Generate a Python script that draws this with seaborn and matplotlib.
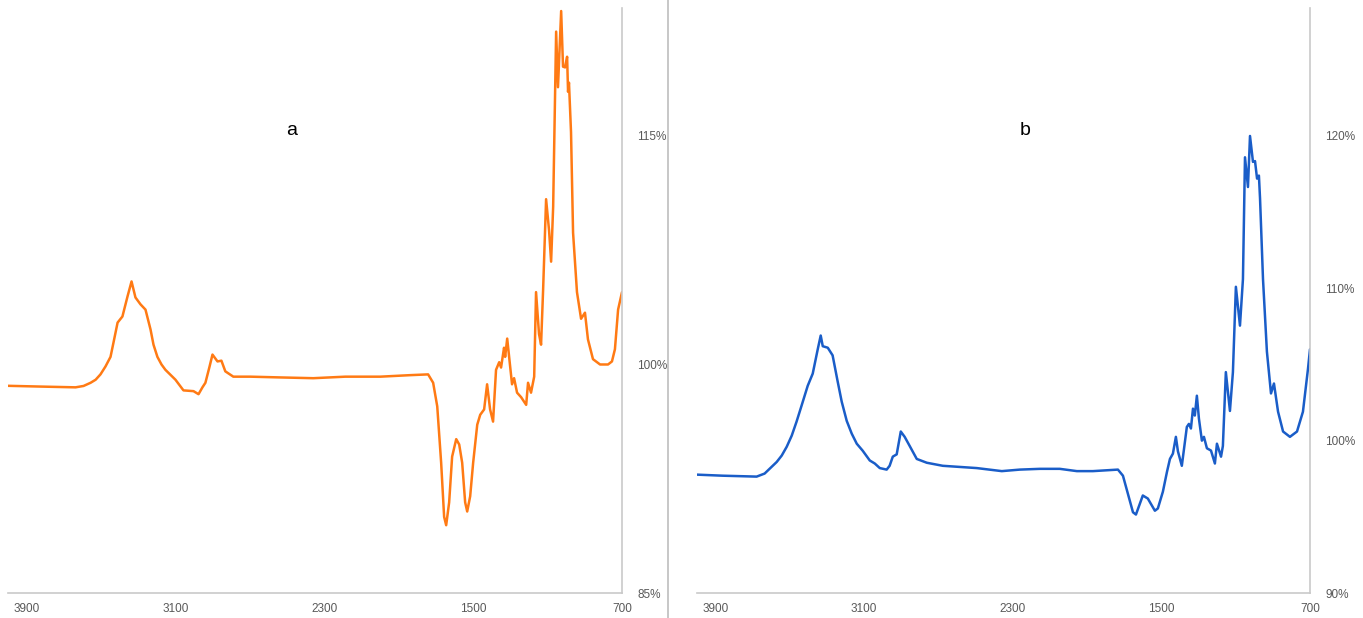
import matplotlib
matplotlib.use("Agg")
import matplotlib.pyplot as plt
import matplotlib.lines as mlines
import seaborn as sns
import pandas as pd

# ---------------- data ----------------
wn_a = [4000, 3825, 3637, 3594, 3556, 3529, 3503, 3476, 3449, 3433, 3411, 3385,
        3358, 3336, 3315, 3288, 3261, 3234, 3218, 3197, 3175, 3154, 3100, 3057,
        3003, 2976, 2955, 2939, 2917, 2901, 2874, 2853, 2832, 2789, 2697, 2536,
        2359, 2187, 1999, 1838, 1742, 1715, 1693, 1672, 1656, 1645, 1629, 1613,
        1591, 1575, 1559, 1543, 1532, 1516, 1500, 1478, 1462, 1441, 1425, 1409,
        1393, 1377, 1360, 1350, 1334, 1328, 1317, 1301, 1291, 1280, 1264, 1242,
        1215, 1205, 1189, 1172, 1162, 1146, 1135, 1124, 1108, 1092, 1081, 1070,
        1054, 1044, 1027, 1017, 1006, 995, 990, 985, 974, 963, 942, 920, 899,
        883, 856, 818, 775, 754, 738, 721, 700]
val_a = [98.6, 98.55, 98.5, 98.59, 98.8, 99.0, 99.35, 99.87, 100.5, 101.44,
         102.75, 103.15, 104.45, 105.45, 104.4, 103.95, 103.6, 102.3, 101.3,
         100.5, 100.0, 99.65, 99.0, 98.3, 98.25, 98.05, 98.5, 98.8, 99.85,
         100.65, 100.2, 100.25, 99.55, 99.2, 99.2, 99.15, 99.1, 99.2, 99.2,
         99.3, 99.35, 98.8, 97.25, 93.55, 90.0, 89.45, 90.95, 93.95, 95.1,
         94.75, 93.55, 90.95, 90.35, 91.35, 93.55, 96.05, 96.7, 97.05, 98.7,
         97.05, 96.25, 99.65, 100.15, 99.8, 101.1, 100.5, 101.7, 99.85, 98.7,
         99.1, 98.15, 97.85, 97.35, 98.8, 98.15, 99.2, 104.75, 102.0, 101.3,
         104.9, 110.85, 108.8, 106.75, 110.35, 121.85, 118.2, 123.2, 119.55,
         119.5, 120.2, 117.9, 118.5, 115.25, 108.65, 104.75, 103.0, 103.4,
         101.65, 100.35, 100.0, 100.0, 100.2, 101.0, 103.6, 104.75]

wn_b = [4002, 3862, 3679, 3636, 3571, 3544, 3517, 3490, 3464, 3437, 3404, 3377,
        3350, 3334, 3323, 3296, 3270, 3243, 3221, 3194, 3167, 3140, 3108, 3070,
        3043, 3016, 2979, 2963, 2946, 2925, 2903, 2882, 2855, 2817, 2763, 2677,
        2494, 2359, 2262, 2154, 2047, 1955, 1869, 1734, 1707, 1680, 1653, 1637,
        1600, 1573, 1535, 1519, 1492, 1470, 1454, 1438, 1422, 1411, 1390, 1363,
        1352, 1341, 1330, 1320, 1309, 1298, 1282, 1271, 1255, 1233, 1212, 1201,
        1179, 1169, 1153, 1131, 1115, 1099, 1077, 1061, 1050, 1034, 1023, 1007,
        996, 985, 975, 969, 953, 932, 910, 894, 872, 845, 808, 770, 738, 711, 700]
val_b = [97.77, 97.7, 97.64, 97.84, 98.6, 99.02, 99.6, 100.33, 101.25, 102.3,
         103.6, 104.4, 106.0, 106.9, 106.2, 106.1, 105.6, 103.9, 102.56, 101.3,
         100.46, 99.8, 99.34, 98.7, 98.5, 98.2, 98.1, 98.35, 98.95, 99.1,
         100.6, 100.25, 99.65, 98.8, 98.55, 98.35, 98.2, 98.0, 98.1, 98.15,
         98.15, 98.0, 98.0, 98.1, 97.7, 96.5, 95.3, 95.15, 96.4, 96.2, 95.4,
         95.55, 96.65, 97.95, 98.8, 99.15, 100.25, 99.3, 98.35, 100.9, 101.1,
         100.8, 102.1, 101.65, 102.95, 101.45, 100.0, 100.25, 99.5, 99.35,
         98.5, 99.8, 98.95, 99.65, 104.5, 101.95, 104.5, 110.1, 107.55, 110.6,
         118.6, 116.65, 120.0, 118.3, 118.35, 117.2, 117.4, 115.9, 110.6,
         105.85, 103.1, 103.75, 101.9, 100.6, 100.25, 100.6, 101.9, 104.7, 106.0]

x_ticks = [3900, 3100, 2300, 1500, 700]
y_ticks_a = [85, 100, 115]
y_ticks_b = [90, 100, 110, 120]
label_a = "a"
label_b = "b"

df_a = pd.DataFrame({"wn": wn_a, "val": val_a})
df_b = pd.DataFrame({"wn": wn_b, "val": val_b})

# ---------------- figure ----------------
sns.set_style("white")
plt.rcParams["font.family"] = ["Liberation Sans", "DejaVu Sans"]

W, H = 1363, 618
fig = plt.figure(figsize=(W / 100, H / 100), dpi=100)

def px_axes(x0, x1, y0, y1):
    return fig.add_axes([x0 / W, 1 - y1 / H, (x1 - x0) / W, (y1 - y0) / H])

ax_a = px_axes(8, 622, 8, 593)
ax_b = px_axes(697, 1310, 8, 593)

spine_col = "#c9c9c9"
tick_col = "#595959"

def style(ax, yticks, ylim):
    ax.set_xlim(4000, 700)
    ax.set_ylim(*ylim)
    ax.set_xticks(x_ticks)
    ax.set_xticklabels([str(t) for t in x_ticks])
    ax.set_yticks(yticks)
    ax.set_yticklabels([f"{t}%" for t in yticks])
    ax.yaxis.tick_right()
    ax.yaxis.set_label_position("right")
    for s in ["top", "left"]:
        ax.spines[s].set_visible(False)
    for s in ["bottom", "right"]:
        ax.spines[s].set_color(spine_col)
        ax.spines[s].set_linewidth(1.2)
    ax.tick_params(axis="x", length=0, pad=7, labelsize=8.5, colors=tick_col)
    ax.tick_params(axis="y", length=0, pad=11, labelsize=8.5, colors=tick_col)
    ax.set_xlabel("")
    ax.set_ylabel("")
    ax.grid(False)
    ax.set_facecolor("none")

sns.lineplot(data=df_a, x="wn", y="val", ax=ax_a, color="#FF7A14",
             linewidth=1.8, estimator=None, sort=True)
sns.lineplot(data=df_b, x="wn", y="val", ax=ax_b, color="#1A5DC8",
             linewidth=1.8, estimator=None, sort=True)

style(ax_a, y_ticks_a, (85, 123.4))
style(ax_b, y_ticks_b, (90, 128.4))

ax_a.text(292 / W, 1 - 130 / H, label_a, transform=fig.transFigure,
          fontsize=14, color="black", ha="center", va="center")
ax_b.text(1025 / W, 1 - 130 / H, label_b, transform=fig.transFigure,
          fontsize=14, color="black", ha="center", va="center")

# separator between the two panels
fig.add_artist(mlines.Line2D([668 / W, 668 / W], [0, 1], color="#bdbdbd",
                             linewidth=1.2, transform=fig.transFigure))

fig.savefig("out.png", dpi=100)
